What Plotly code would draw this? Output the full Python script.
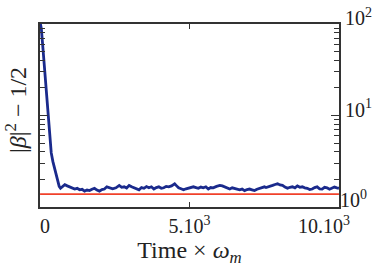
import plotly.graph_objects as go

# Decay part followed by the noisy steady-state floor
time = [0, 43, 99, 166, 232, 281, 331, 374, 430, 487, 546, 596, 640, 685, 762,
        828, 910, 993, 1076, 1159, 1241, 1324, 1407, 1490, 1573, 1656, 1738, 1821, 1904,
        1987, 2070, 2152, 2235, 2318, 2430, 2540, 2595, 2649, 2731, 2814, 2897, 2980, 3063,
        3146, 3228, 3311, 3394, 3477, 3560, 3642, 3725, 3808, 3890, 3973, 4056, 4139, 4221,
        4304, 4400, 4503, 4570, 4635, 4718, 4801, 4884, 4967, 5050, 5132, 5215, 5298, 5380,
        5463, 5546, 5629, 5711, 5794, 5905, 6016, 6099, 6182, 6265, 6347, 6430, 6513, 6595,
        6678, 6761, 6844, 6926, 7009, 7092, 7175, 7258, 7341, 7423, 7506, 7560, 7615, 7698,
        7781, 7864, 7946, 8029, 8112, 8195, 8278, 8360, 8443, 8526, 8609, 8691, 8774, 8857,
        8940, 9022, 9105, 9188, 9271, 9354, 9437, 9520, 9602, 9685, 9768, 9850, 9933, 10000]
beta = [105, 89, 53, 29, 16, 10, 6.1, 3.9, 3.13, 2.67, 2.19, 1.87, 1.68, 1.60, 1.68,
        1.75, 1.70, 1.66, 1.62, 1.57, 1.60, 1.54, 1.56, 1.49, 1.53, 1.51, 1.56, 1.60, 1.53,
        1.49, 1.55, 1.57, 1.66, 1.62, 1.58, 1.62, 1.68, 1.72, 1.64, 1.66, 1.61, 1.72, 1.66,
        1.62, 1.58, 1.54, 1.63, 1.60, 1.67, 1.62, 1.66, 1.57, 1.63, 1.66, 1.60, 1.62, 1.68,
        1.66, 1.70, 1.79, 1.70, 1.62, 1.58, 1.54, 1.58, 1.60, 1.65, 1.66, 1.63, 1.60, 1.65,
        1.62, 1.66, 1.57, 1.63, 1.62, 1.68, 1.72, 1.70, 1.66, 1.61, 1.57, 1.62, 1.60, 1.56,
        1.54, 1.57, 1.51, 1.55, 1.57, 1.54, 1.51, 1.56, 1.60, 1.64, 1.66, 1.63, 1.66, 1.70,
        1.72, 1.76, 1.79, 1.74, 1.72, 1.65, 1.60, 1.64, 1.66, 1.62, 1.70, 1.64, 1.66, 1.62,
        1.60, 1.55, 1.57, 1.63, 1.66, 1.58, 1.57, 1.64, 1.62, 1.56, 1.60, 1.65, 1.62, 1.60]

ref_time = [0, 10000]
ref_value = [1.38, 1.38]

x_tickvals = [0, 5000, 10000]
x_ticktext = ["\u00a0\u00a00", "5.10<sup>3</sup>",
              "10.10<sup>3</sup>" + "\u00a0" * 6]
y_majors = [1, 10, 100]
y_ticktext_upper = ["", "10<sup>1</sup>", "10<sup>2</sup>"]
y_tickvals_lower = [1]
y_ticktext_lower = ["10<sup>0</sup>"]
y_minor = [2, 3, 4, 5, 6, 7, 8, 9, 20, 30, 40, 50, 60, 70, 80, 90]

FONT = "Liberation Serif, Times New Roman, serif"
AX = "#333"
fig = go.Figure()
fig.add_trace(go.Scatter(x=time, y=beta, mode="lines",
                         line=dict(color="#1a2a8c", width=2.8), showlegend=False))
fig.add_trace(go.Scatter(x=ref_time, y=ref_value, mode="lines", yaxis="y2",
                         line=dict(color="#f0412a", width=1.6), showlegend=False))
fig.add_trace(go.Scatter(x=ref_time, y=ref_value, mode="lines", yaxis="y3",
                         line=dict(color="rgba(0,0,0,0)", width=0), showlegend=False,
                         hoverinfo="skip"))

yrange = [-0.0005, 2.0005]
tickstyle = dict(ticks="inside", ticklen=8, tickcolor=AX, tickwidth=1.3,
                 minor=dict(tickvals=y_minor, ticks="inside", ticklen=5,
                            tickcolor=AX, tickwidth=1.2, showgrid=False))

fig.update_layout(
    width=385, height=267,
    margin=dict(l=40, r=43, t=5, b=56),
    paper_bgcolor="white", plot_bgcolor="white",
    font=dict(family=FONT, color="#222", size=20),
    xaxis=dict(range=[-2, 10002], tickvals=x_tickvals, ticktext=x_ticktext,
               ticks="inside", ticklen=5, tickcolor=AX, tickwidth=1.3,
               showline=True, linecolor=AX, linewidth=1.8, mirror="ticks",
               showgrid=False, zeroline=False,
               tickfont=dict(size=20, family=FONT),
               title=dict(text="Time × <i>ω</i><sub><i>m</i></sub>",
                          font=dict(size=24, family=FONT), standoff=8)),
    yaxis=dict(type="log", range=yrange, side="right",
               tickvals=y_majors, ticktext=y_ticktext_upper,
               ticklabelshift=-6, ticklabeloverflow="allow",
               showline=True, linecolor=AX, linewidth=1.8, mirror=True,
               showgrid=False, zeroline=False,
               tickfont=dict(size=20, family=FONT), **tickstyle),
    yaxis2=dict(type="log", range=yrange, overlaying="y", side="left",
                tickvals=y_majors, showticklabels=False, showline=False,
                showgrid=False, zeroline=False, **tickstyle),
    yaxis3=dict(type="log", range=yrange, overlaying="y", side="right",
                tickvals=y_tickvals_lower, ticktext=y_ticktext_lower,
                ticks="inside", ticklen=1, tickcolor="rgba(0,0,0,0)",
                ticklabelshift=-7, ticklabeloverflow="allow",
                showline=False, showgrid=False, zeroline=False,
                tickfont=dict(size=20, family=FONT)),
    annotations=[dict(text="|<i>β</i>|<sup>2</sup> − 1/2", textangle=-90,
                      xref="paper", yref="paper", x=-0.08, y=0.53,
                      xanchor="center", yanchor="middle", showarrow=False,
                      font=dict(size=24, family=FONT, color="#222"))],
)

fig.write_html("out.html")
